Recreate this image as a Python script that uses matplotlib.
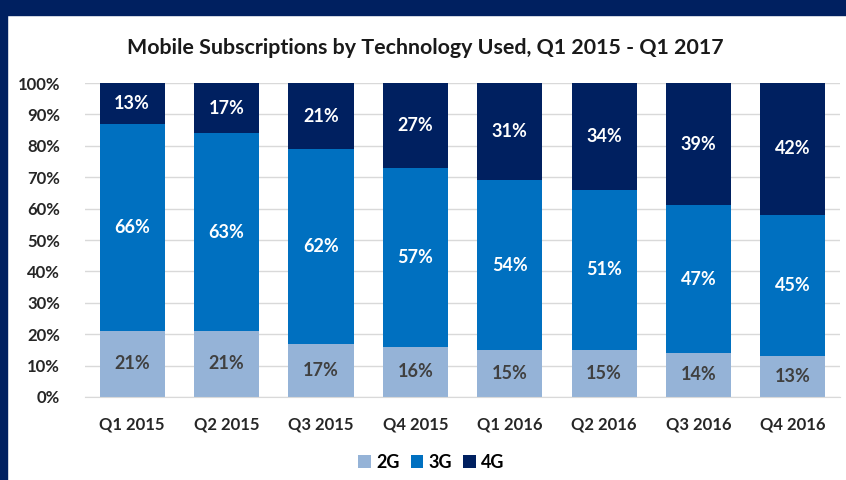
import matplotlib
matplotlib.use("Agg")
from matplotlib import pyplot as plt
from matplotlib.patches import Rectangle
import numpy as np

quarters = ['Q1 2015', 'Q2 2015', 'Q3 2015', 'Q4 2015',
            'Q1 2016', 'Q2 2016', 'Q3 2016', 'Q4 2016']
g2 = [21, 21, 17, 16, 15, 15, 14, 13]
g3 = [66, 63, 62, 57, 54, 51, 47, 45]
g4 = [13, 17, 21, 27, 31, 34, 39, 42]

colors = {'2G': '#95B3D7', '3G': '#0070C0', '4G': '#002060'}
text_colors = {'2G': '#404040', '3G': 'white', '4G': 'white'}

plt.rcParams['font.family'] = ['Lato', 'DejaVu Sans']
plt.rcParams['font.weight'] = 'bold'

fig = plt.figure(figsize=(8.46, 4.8), dpi=100)
ax = fig.add_axes([0.1005, 0.173, 0.8924, 0.654])

x = np.arange(len(quarters))
bottom = np.zeros(len(quarters))
for name, vals in [('2G', g2), ('3G', g3), ('4G', g4)]:
    vals = np.array(vals, dtype=float)
    ax.bar(x, vals, 0.69, bottom=bottom, color=colors[name], label=name, zorder=2)
    for xi, b, v in zip(x, bottom, vals):
        top = min(b + v, 100)
        ax.text(xi, (b + top) / 2, f'{int(v)}%', ha='center', va='center',
                color=text_colors[name], fontsize=13, fontweight='bold', zorder=3)
    bottom += vals

ax.set_xlim(-0.5, len(quarters) - 0.5)
ax.set_ylim(0, 100)
ax.set_yticks(range(0, 101, 10))
ax.set_yticklabels([f'{v}%' for v in range(0, 101, 10)], fontsize=12, fontweight='bold')
ax.set_xticks(x)
ax.set_xticklabels(quarters, fontsize=12, fontweight='bold')
ax.tick_params(axis='both', length=0, colors='#262626')
ax.tick_params(axis='x', pad=14)
ax.tick_params(axis='y', pad=18)
ax.yaxis.grid(True, color='#D9D9D9', linewidth=1, zorder=0)
for s in ['top', 'right', 'left']:
    ax.spines[s].set_visible(False)
ax.spines['bottom'].set_color('#D9D9D9')

fig.text(0.503, 0.9, 'Mobile Subscriptions by Technology Used, Q1 2015 - Q1 2017',
         ha='center', va='center', fontsize=15.4, fontweight='bold', color='#1a1a1a')

fig.legend(loc='center', bbox_to_anchor=(0.51, 0.037), ncol=3, frameon=False,
           fontsize=13, handlelength=0.7, handleheight=0.7, handletextpad=0.3,
           columnspacing=0.6, borderaxespad=0)

# navy frame of the original slide
fig.patches.append(Rectangle((0, 1 - 15 / 480), 1, 15 / 480, transform=fig.transFigure,
                             color='#002060', zorder=0))
fig.patches.append(Rectangle((0, 0), 7 / 846, 1, transform=fig.transFigure,
                             color='#002060', zorder=0))

fig.savefig('out.png', dpi=100)
